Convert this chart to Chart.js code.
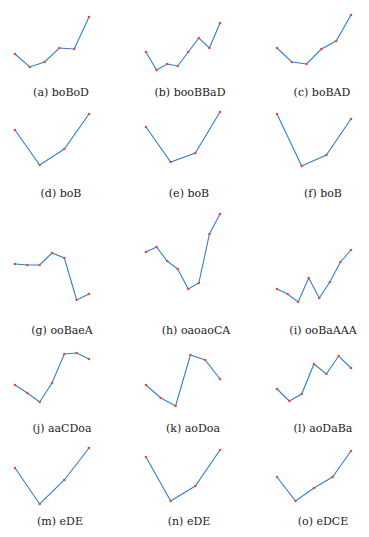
<!DOCTYPE html>
<html>
<head>
<meta charset="utf-8">
<script src="https://cdn.jsdelivr.net/npm/chart.js@4"></script>
<style>
  body { margin: 0; background: #fff; }
  #wrap { position: relative; width: 369px; height: 537px; overflow: hidden; }
  canvas { position: absolute; }
  .cap { position: absolute; font-family: "DejaVu Serif", serif; font-size: 11px; color: #222; white-space: nowrap; transform: translate(-50%, -50%); }
</style>
</head>
<body>
<div id="wrap"></div>
<script>
// captions, one per panel
const captions = [
    "(a) boBoD", "(b) booBBaD", "(c) boBAD",
    "(d) boB", "(e) boB", "(f) boB",
    "(g) ooBaeA", "(h) oaoaoCA", "(i) ooBaAAA",
    "(j) aaCDoa", "(k) aoDoa", "(l) aoDaBa",
    "(m) eDE", "(n) eDE", "(o) eDCE"
];

// values (arbitrary units, shared per row)
const valuesA = [1.8, 0.5, 1.0, 2.4, 2.3, 5.5];
const valuesB = [2.0, 0.2, 0.8, 0.6, 2.0, 3.4, 2.4, 4.9];
const valuesC = [2.4, 1.0, 0.8, 2.3, 3.1, 5.7];
const valuesD = [4.0, 0.5, 2.1, 5.6];
const valuesE = [4.3, 0.8, 1.7, 5.8];
const valuesF = [5.6, 0.4, 1.5, 5.1];
const valuesG = [4.1, 4.0, 4.0, 5.2, 4.7, 0.5, 1.1];
const valuesH = [5.3, 5.8, 4.4, 3.6, 1.6, 2.2, 7.1, 9.1];
const valuesI = [1.6, 1.1, 0.3, 2.7, 0.7, 2.3, 4.3, 5.5];
const valuesJ = [2.5, 1.7, 0.8, 2.7, 5.6, 5.7, 5.1];
const valuesK = [2.5, 1.2, 0.4, 5.5, 5.0, 3.1];
const valuesL = [2.1, 0.9, 1.6, 4.6, 3.6, 5.4, 4.2];
const valuesM = [4.2, 0.6, 3.0, 6.2];
const valuesN = [5.3, 0.9, 2.4, 6.0];
const valuesO = [3.3, 0.9, 2.2, 3.3, 5.9];

const allValues = [valuesA, valuesB, valuesC, valuesD, valuesE, valuesF, valuesG, valuesH, valuesI,
                   valuesJ, valuesK, valuesL, valuesM, valuesN, valuesO];

// y axis top per row (bottom is 0)
const rowMax = [6.2, 6.2, 9.7, 6.2, 6.6];

// layout
const colLeft = [15, 146, 277];
const plotWidth = 74;
const rowTop = [10, 108, 208, 348, 444];
const rowBottom = [72, 170, 305, 410, 510];
const capY = [92, 193, 330, 428, 521];
const capX = [61, 61, 62, 62, 60, 190, 189, 196, 193, 189, 322, 323, 323, 323, 323];
const pad = 4;

const wrap = document.getElementById("wrap");

allValues.forEach(function(values, i) {
    const row = Math.floor(i / 3);
    const col = i % 3;
    const h = rowBottom[row] - rowTop[row];

    const canvas = document.createElement("canvas");
    canvas.width = plotWidth + pad * 2;
    canvas.height = h + pad * 2;
    canvas.style.left = (colLeft[col] - pad) + "px";
    canvas.style.top = (rowTop[row] - pad) + "px";
    wrap.appendChild(canvas);

    new Chart(canvas.getContext("2d"), {
        type: "line",
        data: {
            labels: values.map((v, k) => k),
            datasets: [{
                data: values,
                borderColor: "#2f7fd1",
                borderWidth: 1.1,
                pointBackgroundColor: "#e5502f",
                pointBorderColor: "#e5502f",
                pointRadius: 1.3,
                pointBorderWidth: 0,
                tension: 0,
                clip: false
            }]
        },
        options: {
            responsive: false,
            animation: false,
            layout: { padding: pad },
            plugins: { legend: { display: false }, tooltip: { enabled: false } },
            scales: {
                x: { display: false, offset: false },
                y: { display: false, min: 0, max: rowMax[row] }
            }
        }
    });

    const cap = document.createElement("div");
    cap.className = "cap";
    cap.textContent = captions[i];
    cap.style.left = capX[col * 5 + row] + "px";
    cap.style.top = capY[row] + "px";
    wrap.appendChild(cap);
});
</script>
</body>
</html>
